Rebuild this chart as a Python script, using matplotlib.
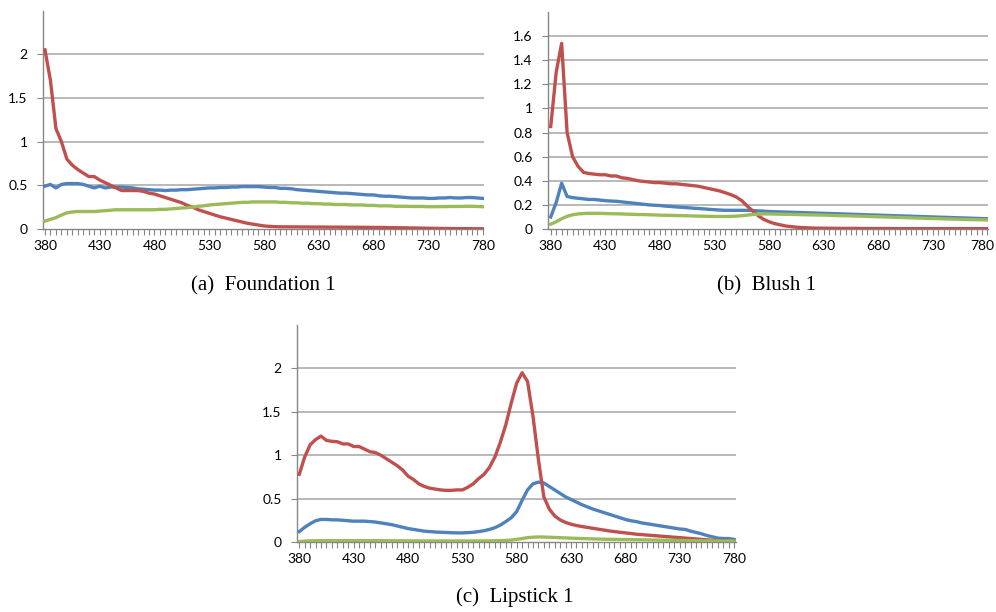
import numpy as np
import matplotlib
matplotlib.use("Agg")
import matplotlib.pyplot as plt
import matplotlib.transforms as mtransforms
from matplotlib.ticker import MultipleLocator, FixedLocator

wavelengths = list(range(380, 781, 5))

# ---- (a) Foundation 1 ----
found_blue = [0.49, 0.51, 0.47, 0.51, 0.52, 0.52, 0.52, 0.51, 0.49, 0.47,
              0.49, 0.47, 0.48, 0.48, 0.48, 0.475, 0.47, 0.46, 0.455, 0.45,
              0.445, 0.445, 0.44, 0.445, 0.445, 0.45, 0.45, 0.455, 0.46, 0.465,
              0.47, 0.47, 0.475, 0.475, 0.48, 0.48, 0.485, 0.485, 0.485, 0.485,
              0.48, 0.475, 0.475, 0.465, 0.465, 0.46, 0.45, 0.445, 0.44, 0.435,
              0.43, 0.425, 0.42, 0.415, 0.41, 0.41, 0.405, 0.40, 0.395, 0.39,
              0.39, 0.38, 0.375, 0.375, 0.37, 0.365, 0.36, 0.355, 0.355, 0.355,
              0.35, 0.35, 0.355, 0.355, 0.36, 0.355, 0.355, 0.36, 0.36, 0.355,
              0.35]
found_red = [2.05, 1.70, 1.15, 1.00, 0.80, 0.73, 0.68, 0.64, 0.60, 0.60,
             0.56, 0.53, 0.50, 0.47, 0.44, 0.44, 0.44, 0.44, 0.43, 0.41,
             0.40, 0.38, 0.36, 0.34, 0.32, 0.30, 0.27, 0.25, 0.22, 0.20,
             0.18, 0.16, 0.14, 0.125, 0.11, 0.095, 0.08, 0.065, 0.055, 0.045,
             0.035, 0.03, 0.027, 0.025, 0.025, 0.024, 0.024, 0.023, 0.023, 0.022,
             0.022, 0.022, 0.021, 0.021, 0.021, 0.020, 0.020, 0.020, 0.019, 0.019,
             0.018, 0.018, 0.017, 0.016, 0.015, 0.014, 0.013, 0.012, 0.011, 0.010,
             0.009, 0.008, 0.007, 0.006, 0.005, 0.005, 0.004, 0.004, 0.003, 0.003,
             0.003]
found_green = [0.09, 0.11, 0.13, 0.16, 0.185, 0.195, 0.20, 0.20, 0.20, 0.20,
               0.205, 0.21, 0.215, 0.22, 0.22, 0.22, 0.22, 0.22, 0.22, 0.22,
               0.22, 0.225, 0.225, 0.23, 0.235, 0.24, 0.245, 0.25, 0.26, 0.265,
               0.275, 0.28, 0.285, 0.29, 0.295, 0.30, 0.305, 0.305, 0.31, 0.31,
               0.31, 0.31, 0.31, 0.305, 0.305, 0.30, 0.30, 0.295, 0.295, 0.29,
               0.29, 0.285, 0.285, 0.28, 0.28, 0.28, 0.275, 0.275, 0.275, 0.27,
               0.27, 0.265, 0.265, 0.265, 0.26, 0.26, 0.26, 0.258, 0.258, 0.258,
               0.255, 0.255, 0.256, 0.256, 0.258, 0.258, 0.258, 0.26, 0.26, 0.258,
               0.255]

# ---- (b) Blush 1 ----
blush_blue = [0.10, 0.22, 0.38, 0.27, 0.26, 0.255, 0.25, 0.245, 0.245, 0.24,
              0.235, 0.232, 0.23, 0.225, 0.22, 0.215, 0.21, 0.205, 0.20, 0.197,
              0.195, 0.19, 0.187, 0.183, 0.18, 0.177, 0.173, 0.17, 0.167, 0.163,
              0.16, 0.157, 0.155, 0.155, 0.155, 0.155, 0.155, 0.153, 0.15, 0.148,
              0.145, 0.1435, 0.142, 0.1405, 0.139, 0.1375, 0.136, 0.1345, 0.133, 0.1315,
              0.13, 0.1285, 0.127, 0.1255, 0.124, 0.1225, 0.121, 0.1195, 0.118, 0.1165,
              0.115, 0.1135, 0.112, 0.1105, 0.109, 0.1075, 0.106, 0.1045, 0.103, 0.1015,
              0.10, 0.0985, 0.097, 0.0955, 0.094, 0.0925, 0.091, 0.0895, 0.088, 0.0865,
              0.085]
blush_red = [0.85, 1.30, 1.54, 0.80, 0.60, 0.52, 0.47, 0.46, 0.455, 0.45,
             0.45, 0.44, 0.44, 0.425, 0.42, 0.41, 0.40, 0.395, 0.39, 0.385,
             0.385, 0.38, 0.375, 0.375, 0.37, 0.365, 0.36, 0.355, 0.345, 0.335,
             0.325, 0.315, 0.30, 0.285, 0.265, 0.235, 0.19, 0.15, 0.11, 0.08,
             0.06, 0.045, 0.035, 0.025, 0.02, 0.015, 0.012, 0.01, 0.008, 0.007,
             0.007, 0.006, 0.006, 0.005, 0.005, 0.005, 0.005, 0.004, 0.004, 0.004,
             0.004, 0.004, 0.004, 0.003, 0.003, 0.003, 0.003, 0.003, 0.003, 0.003,
             0.003, 0.003, 0.003, 0.003, 0.003, 0.003, 0.003, 0.003, 0.003, 0.003,
             0.003]
blush_green = [0.04, 0.06, 0.085, 0.105, 0.118, 0.125, 0.128, 0.13, 0.13, 0.13,
               0.128, 0.127, 0.126, 0.125, 0.123, 0.122, 0.12, 0.12, 0.118, 0.117,
               0.115, 0.114, 0.113, 0.112, 0.111, 0.11, 0.108, 0.107, 0.106, 0.105,
               0.104, 0.104, 0.104, 0.105, 0.107, 0.11, 0.115, 0.12, 0.123, 0.125,
               0.125, 0.124, 0.123, 0.122, 0.121, 0.12, 0.119, 0.118, 0.117, 0.116,
               0.115, 0.114, 0.112, 0.111, 0.11, 0.109, 0.107, 0.106, 0.105, 0.103,
               0.102, 0.1, 0.099, 0.097, 0.096, 0.094, 0.093, 0.091, 0.09, 0.088,
               0.087, 0.086, 0.084, 0.083, 0.082, 0.081, 0.079, 0.078, 0.077, 0.076,
               0.075]

# ---- (c) Lipstick 1 ----
lip_blue = [0.12, 0.17, 0.21, 0.245, 0.26, 0.26, 0.255, 0.255, 0.25, 0.245,
            0.24, 0.24, 0.24, 0.235, 0.23, 0.22, 0.21, 0.20, 0.185, 0.17,
            0.155, 0.145, 0.135, 0.125, 0.12, 0.115, 0.112, 0.11, 0.107, 0.105,
            0.105, 0.108, 0.112, 0.12, 0.13, 0.145, 0.165, 0.195, 0.235, 0.28,
            0.35, 0.48, 0.60, 0.67, 0.69, 0.68, 0.64, 0.60, 0.56, 0.52,
            0.49, 0.46, 0.43, 0.405, 0.38, 0.36, 0.34, 0.32, 0.30, 0.28,
            0.26, 0.245, 0.235, 0.22, 0.21, 0.20, 0.19, 0.18, 0.17, 0.16,
            0.15, 0.145, 0.125, 0.11, 0.095, 0.075, 0.06, 0.045, 0.04, 0.04,
            0.03]
lip_red = [0.78, 0.98, 1.12, 1.18, 1.22, 1.17, 1.16, 1.155, 1.13, 1.13,
           1.10, 1.10, 1.07, 1.04, 1.03, 1.00, 0.96, 0.92, 0.88, 0.83,
           0.76, 0.72, 0.67, 0.64, 0.62, 0.61, 0.60, 0.595, 0.595, 0.60,
           0.60, 0.63, 0.67, 0.73, 0.78, 0.86, 0.98, 1.15, 1.35, 1.60,
           1.83, 1.95, 1.85, 1.45, 0.95, 0.52, 0.38, 0.30, 0.255, 0.225,
           0.205, 0.19, 0.178, 0.168, 0.158, 0.148, 0.138, 0.128, 0.12, 0.112,
           0.105, 0.098, 0.09, 0.085, 0.08, 0.075, 0.07, 0.065, 0.06, 0.055,
           0.05, 0.045, 0.04, 0.035, 0.03, 0.025, 0.02, 0.018, 0.015, 0.012,
           0.01]
lip_green = [0.005, 0.01, 0.013, 0.015, 0.015, 0.015, 0.015, 0.015, 0.015, 0.015,
             0.015, 0.015, 0.015, 0.015, 0.015, 0.015, 0.015, 0.014, 0.014, 0.014,
             0.013, 0.013, 0.013, 0.012, 0.012, 0.012, 0.012, 0.012, 0.012, 0.012,
             0.012, 0.012, 0.012, 0.012, 0.013, 0.013, 0.014, 0.015, 0.018, 0.022,
             0.03, 0.04, 0.05, 0.055, 0.058, 0.057, 0.055, 0.052, 0.05, 0.047,
             0.044, 0.042, 0.04, 0.038, 0.036, 0.034, 0.032, 0.031, 0.03, 0.029,
             0.028, 0.027, 0.026, 0.025, 0.024, 0.023, 0.022, 0.021, 0.02, 0.019,
             0.018, 0.017, 0.016, 0.015, 0.014, 0.013, 0.012, 0.012, 0.011, 0.011,
             0.01]

xlabels = [380, 430, 480, 530, 580, 630, 680, 730, 780]
captions = ["(a)  Foundation 1", "(b)  Blush 1", "(c)  Lipstick 1"]

BLUE = "#4F81BD"
RED = "#C0504D"
GREEN = "#9BBB59"
GRID = "#A6A6A6"
AXIS = "#868686"

W, H = 996, 612
fig = plt.figure(figsize=(W / 100, H / 100), dpi=100)

def px_axes(left, right, top, bottom):
    return fig.add_axes([left / W, 1 - bottom / H, (right - left) / W, (bottom - top) / H])

panels = [
    dict(box=(43, 483.5, 10.5, 229), xlim=(378.2, 780.5), ymax=2.5, ystep=0.5,
         data=(found_blue, found_red, found_green)),
    dict(box=(548, 988, 12, 229), xlim=(377.5, 780.5), ymax=1.8, ystep=0.2,
         data=(blush_blue, blush_red, blush_green)),
    dict(box=(297, 736, 325, 542), xlim=(377.9, 781.8), ymax=2.5, ystep=0.5,
         data=(lip_blue, lip_red, lip_green)),
]

FONT = "Lato"
FS = 10
axes = []
for p in panels:
    ax = px_axes(*p["box"])
    axes.append(ax)
    b, r, g = p["data"]
    ax.plot(wavelengths, b, color=BLUE, lw=2.4, solid_joinstyle="round", zorder=3)
    ax.plot(wavelengths, r, color=RED, lw=2.4, solid_joinstyle="round", zorder=4)
    ax.plot(wavelengths, g, color=GREEN, lw=2.4, solid_joinstyle="round", zorder=5)
    ax.set_xlim(*p["xlim"])
    ax.set_ylim(0, p["ymax"])
    yt = list(np.arange(0, p["ymax"] - 1e-9, p["ystep"]))
    ax.yaxis.set_major_locator(FixedLocator(yt))
    ax.set_yticklabels([f"{round(v, 2):g}" for v in yt], fontfamily=FONT, fontsize=FS)
    for v in yt[1:]:
        ax.axhline(v, color=GRID, lw=1.1, zorder=1)
    ax.xaxis.set_major_locator(FixedLocator(xlabels))
    ax.xaxis.set_minor_locator(MultipleLocator(5))
    ax.set_xticklabels([str(v) for v in xlabels], fontfamily=FONT, fontsize=FS)
    for s in ("top", "right"):
        ax.spines[s].set_visible(False)
    for s in ("left", "bottom"):
        ax.spines[s].set_color(AXIS)
        ax.spines[s].set_linewidth(1.0)
    ax.tick_params(axis="y", which="major", length=4, width=0.8, color=AXIS, pad=7,
                   labelcolor="#000000")
    ax.tick_params(axis="x", which="both", length=4, width=0.8, color=AXIS,
                   pad=4, labelcolor="#000000")
    ax.set_facecolor("none")

# keep the last x label of panel (b) inside the figure
lab = axes[1].get_xticklabels()[-1]
lab.set_transform(lab.get_transform() + mtransforms.ScaledTranslation(-5 / 100, 0, fig.dpi_scale_trans))

cap_pos = [(263, 286), (766, 286), (515, 597)]
for (cx, cy), txt in zip(cap_pos, captions):
    fig.text(cx / W, 1 - cy / H, txt, ha="center", va="center",
             fontfamily="Liberation Serif", fontsize=15)

fig.savefig("out.png", dpi=100, facecolor="white")
